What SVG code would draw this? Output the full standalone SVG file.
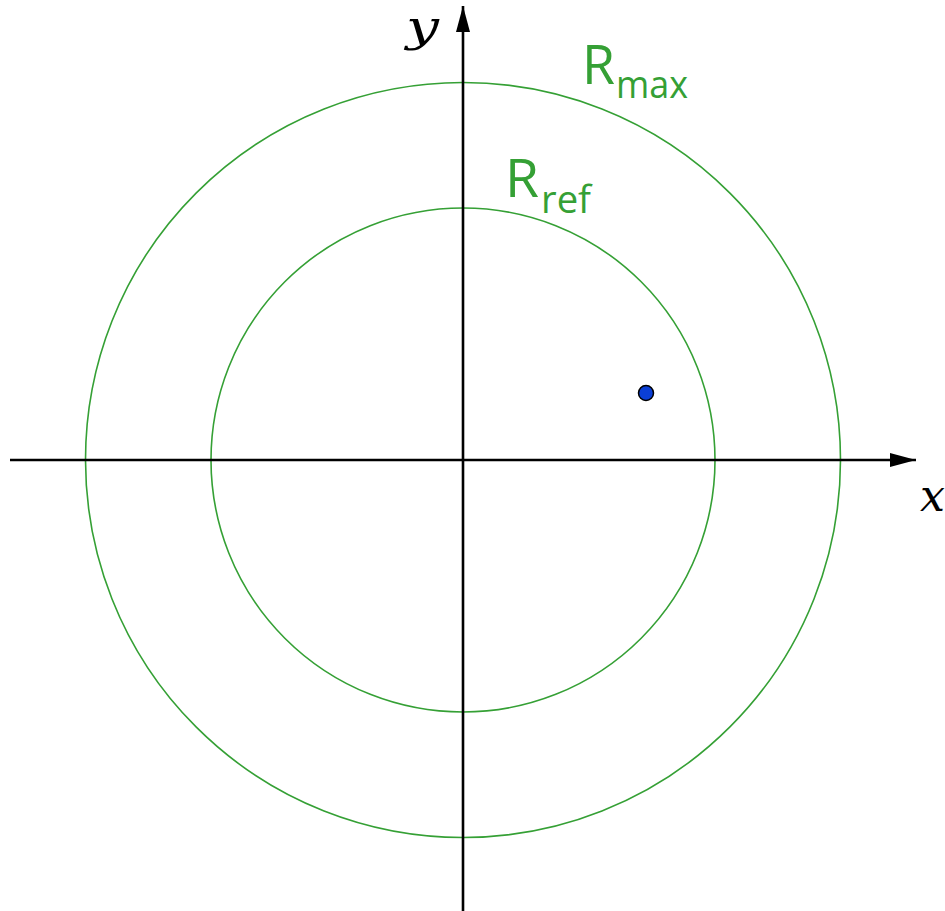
<svg xmlns="http://www.w3.org/2000/svg" width="945" height="911" viewBox="0 0 945 911">
<style>
.circ{fill:none;stroke:#35a035;stroke-width:1.6}
.axis{stroke:#000;stroke-width:2.6;fill:none}
.lbl{font-family:"Open Sans","Liberation Sans",sans-serif;fill:#35a035}
.var{font-family:"DejaVu Serif","Liberation Serif",serif;font-style:italic;fill:#000}
</style>
<defs>
<marker id="arr" viewBox="0 0 26 14" refX="26" refY="7" markerWidth="26" markerHeight="14" markerUnits="userSpaceOnUse" orient="auto">
<path d="M0,0 L26,7 L0,14 Z" fill="#000"/>
</marker>
</defs>
<rect width="945" height="911" fill="#fff"/>
<g id="circles">
<circle id="rmax" class="circ" cx="463" cy="460" r="377.5"/>
<circle id="rref" class="circ" cx="463" cy="460" r="252"/>
</g>
<g id="axes">
<line class="axis" x1="10" y1="460" x2="916" y2="460" marker-end="url(#arr)"/>
<line class="axis" x1="463" y1="911" x2="463" y2="6" marker-end="url(#arr)"/>
</g>
<g id="point">
<circle cx="646" cy="393" r="7.5" fill="#0b3fd6" stroke="#000" stroke-width="1.5"/>
</g>
<g id="labels">
<text class="var" x="406" y="41" font-size="42" textLength="33" lengthAdjust="spacingAndGlyphs">y</text>
<text class="var" x="920" y="511" font-size="44" textLength="25" lengthAdjust="spacingAndGlyphs">x</text>
<text class="lbl" x="582" y="84" font-size="55" textLength="33" lengthAdjust="spacingAndGlyphs">R</text>
<text class="lbl" x="616" y="98" font-size="38" textLength="72" lengthAdjust="spacingAndGlyphs">max</text>
<text class="lbl" x="505" y="197" font-size="53" textLength="34" lengthAdjust="spacingAndGlyphs">R</text>
<text class="lbl" x="541" y="213" font-size="38" textLength="50" lengthAdjust="spacingAndGlyphs">ref</text>
</g>
</svg>
